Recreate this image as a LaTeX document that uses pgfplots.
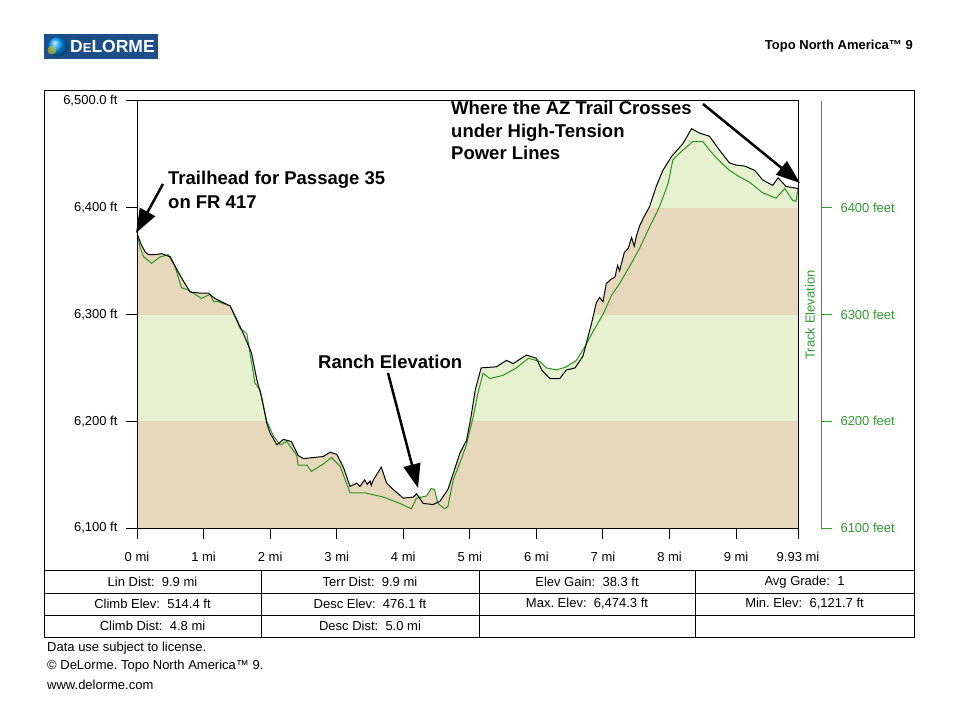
\documentclass[border=0pt]{standalone}
\usepackage{fontspec}
\setmainfont{Liberation Sans}
\usepackage{pgfplots}
\usepackage{pgfplotstable}
\pgfplotsset{compat=1.18}
\usetikzlibrary{arrows.meta}
\frenchspacing

\definecolor{tanband}{RGB}{231,216,187}
\definecolor{greenband}{RGB}{230,241,207}
\definecolor{trackgreen}{RGB}{40,150,30}
\definecolor{axisgreen}{RGB}{50,155,50}
\definecolor{logoblue}{RGB}{28,78,138}

\newcommand{\reg}{\fontsize{13}{15}\selectfont}
\newcommand{\annot}{\fontsize{18.5}{22}\selectfont\bfseries}

% terrain elevation (black)
\pgfplotstableread{
mi ft
0.00 6376
0.06 6366
0.12 6359
0.17 6356
0.27 6356
0.37 6357
0.50 6354
0.60 6342
0.70 6331
0.80 6321
0.95 6320
1.07 6320
1.17 6315
1.30 6311
1.40 6308
1.50 6295
1.62 6279
1.72 6264
1.80 6239
1.87 6223
1.95 6198
2.00 6189
2.10 6178
2.20 6183
2.32 6181
2.42 6168
2.50 6165
2.65 6166
2.80 6167
2.90 6171
3.00 6169
3.10 6157
3.20 6139
3.30 6142
3.35 6139
3.42 6145
3.46 6141
3.50 6144
3.52 6140
3.55 6145
3.67 6157
3.75 6142
3.85 6136
4.00 6128
4.15 6129
4.20 6132
4.30 6123
4.45 6122
4.55 6125
4.67 6136
4.75 6151
4.85 6170
4.95 6182
5.02 6205
5.08 6229
5.17 6250
5.40 6251
5.55 6257
5.65 6254
5.85 6262
6.00 6259
6.08 6248
6.20 6240
6.35 6240
6.45 6248
6.58 6250
6.70 6261
6.75 6273
6.83 6292
6.90 6311
6.95 6316
7.00 6312
7.05 6329
7.12 6333
7.18 6335
7.22 6346
7.25 6341
7.32 6358
7.38 6362
7.43 6372
7.47 6364
7.50 6373
7.55 6383
7.62 6392
7.70 6401
7.80 6420
7.90 6435
8.03 6448
8.20 6460
8.33 6474
8.45 6470
8.60 6467
8.75 6454
8.90 6442
9.00 6440
9.13 6439
9.28 6435
9.40 6426
9.55 6421
9.63 6428
9.75 6420
9.93 6418
}\terrain

% track elevation (green)
\pgfplotstableread{
mi ft
0.00 6376
0.05 6362
0.10 6354
0.22 6348
0.35 6354
0.47 6356
0.57 6345
0.67 6325
0.77 6323
0.97 6315
1.10 6319
1.15 6312
1.22 6312
1.40 6308
1.55 6287
1.65 6282
1.77 6236
1.85 6229
1.95 6200
2.05 6186
2.15 6178
2.25 6181
2.40 6168
2.42 6159
2.55 6159
2.62 6153
2.80 6160
2.92 6166
3.05 6158
3.20 6133
3.42 6133
3.70 6129
3.95 6123
4.12 6118
4.20 6128
4.35 6130
4.42 6137
4.47 6136
4.52 6123
4.62 6118
4.67 6120
4.75 6145
4.85 6161
4.95 6178
5.05 6204
5.12 6226
5.20 6245
5.30 6240
5.50 6243
5.70 6250
5.88 6259
6.05 6256
6.15 6250
6.30 6248
6.45 6251
6.60 6257
6.73 6270
6.85 6284
7.00 6300
7.13 6318
7.25 6329
7.40 6345
7.55 6362
7.70 6382
7.85 6401
7.98 6423
8.05 6445
8.20 6454
8.35 6462
8.50 6462
8.60 6454
8.73 6445
8.90 6435
9.05 6429
9.20 6424
9.40 6414
9.60 6409
9.73 6418
9.85 6407
9.90 6406
9.93 6418
}\track

% upper edge of the shaded area (the higher of the two profiles), closed along the top
\pgfplotstableread{
mi ft
0.00 6376
0.06 6366
0.12 6359
0.17 6356
0.27 6356
0.37 6357
0.47 6356
0.50 6354
0.60 6342
0.70 6331
0.80 6321
0.95 6320
1.07 6320
1.17 6315
1.30 6311
1.40 6308
1.50 6295
1.62 6279
1.72 6264
1.80 6239
1.87 6223
1.95 6200
2.00 6189
2.10 6178
2.20 6183
2.32 6181
2.42 6168
2.50 6165
2.65 6166
2.80 6167
2.90 6171
3.00 6169
3.10 6157
3.20 6139
3.30 6142
3.35 6139
3.42 6145
3.46 6141
3.50 6144
3.52 6140
3.55 6145
3.67 6157
3.75 6142
3.85 6136
4.00 6128
4.15 6129
4.20 6132
4.30 6129
4.35 6130
4.42 6137
4.47 6136
4.52 6124
4.55 6125
4.67 6136
4.75 6151
4.85 6170
4.95 6182
5.02 6205
5.08 6229
5.17 6250
5.40 6251
5.55 6257
5.65 6254
5.85 6262
6.00 6259
6.08 6254
6.15 6250
6.20 6249
6.30 6248
6.35 6249
6.45 6251
6.58 6256
6.60 6257
6.70 6266
6.73 6270
6.75 6273
6.83 6292
6.90 6311
6.95 6316
7.00 6312
7.05 6329
7.12 6333
7.18 6335
7.22 6346
7.25 6341
7.32 6358
7.38 6362
7.43 6372
7.47 6364
7.50 6373
7.55 6383
7.62 6392
7.70 6401
7.80 6420
7.90 6435
8.03 6448
8.20 6460
8.33 6474
8.45 6470
8.60 6467
8.75 6454
8.90 6442
9.00 6440
9.13 6439
9.28 6435
9.40 6426
9.55 6421
9.63 6428
9.75 6420
9.93 6418
9.93 6500
0.00 6500
}\mask

\begin{document}
\begin{tikzpicture}[x=1pt,y=1pt]
\path (0,0) rectangle (960,718);

% header
\fill[logoblue] (44,659) rectangle (158,684);
\shade[ball color=cyan!60!blue] (58,671.5) circle (10);
\fill[yellow!70!orange, opacity=0.55] (52,668) circle (4.5);
\node[anchor=west, text=white, inner sep=0pt] at (70,671.5)
  {\fontsize{17.5}{17.5}\selectfont\bfseries D{\fontsize{13}{13}\selectfont E}LORME};
\node[anchor=east, inner sep=0pt] at (913,672)
  {\fontsize{13}{15}\selectfont\bfseries Topo North America™ 9};

\begin{axis}[
  at={(137pt,190pt)}, anchor=south west,
  scale only axis, width=661pt, height=427pt,
  xmin=0, xmax=9.93, ymin=6100, ymax=6500,
  axis on top,
  axis line style={line width=1pt},
  tick pos=left, tick align=outside,
  major tick length=11pt,
  tick style={black, line width=1pt},
  xtick={0,1,2,3,4,5,6,7,8,9,9.93},
  xticklabels={0 mi,1 mi,2 mi,3 mi,4 mi,5 mi,6 mi,7 mi,8 mi,9 mi,9.93 mi},
  ytick={6100,6200,6300,6400,6500},
  yticklabels={{6,100 ft},{6,200 ft},{6,300 ft},{6,400 ft},{6,500.0 ft}},
  ticklabel style={font=\reg},
  xticklabel style={yshift=-10pt},
  yticklabel style={xshift=-5pt},
]
\addplot[fill=tanband, draw=none] coordinates {(0,6100) (9.93,6100) (9.93,6200) (0,6200)};
\addplot[fill=greenband, draw=none] coordinates {(0,6200) (9.93,6200) (9.93,6300) (0,6300)};
\addplot[fill=tanband, draw=none] coordinates {(0,6300) (9.93,6300) (9.93,6400) (0,6400)};
\addplot[fill=greenband, draw=none] coordinates {(0,6400) (9.93,6400) (9.93,6500) (0,6500)};
\addplot[fill=white, draw=none] table[x=mi,y=ft]{\mask};
\addplot[trackgreen, line width=1pt] table[x=mi,y=ft]{\track};
\addplot[black, line width=1pt] table[x=mi,y=ft]{\terrain};
\end{axis}

% track elevation axis
\begin{axis}[
  at={(821pt,190pt)}, anchor=south east,
  scale only axis, width=1pt, height=427pt,
  xmin=0, xmax=1, ymin=6100, ymax=6500,
  axis x line=none, axis y line=right,
  axis line style={-, axisgreen, line width=1pt},
  tick align=outside, major tick length=11pt,
  tick style={axisgreen, line width=1pt},
  ytick={6100,6200,6300,6400},
  yticklabels={6100 feet,6200 feet,6300 feet,6400 feet},
  yticklabel style={font=\reg, text=axisgreen, xshift=5pt},
]
\addplot[draw=none] coordinates {(0,6100) (1,6500)};
\end{axis}
\node[rotate=90, text=axisgreen, inner sep=0pt] at (810,403) {\reg Track Elevation};

% annotations
\node[anchor=base west, inner sep=0pt] at (168,533.5) {\annot Trailhead for Passage 35};
\node[anchor=base west, inner sep=0pt] at (168,509.5) {\annot on FR 417};
\node[anchor=base west, inner sep=0pt] at (451,603) {\annot Where the AZ Trail Crosses};
\node[anchor=base west, inner sep=0pt] at (451,580.5) {\annot under High-Tension};
\node[anchor=base west, inner sep=0pt] at (451,558) {\annot Power Lines};
\node[anchor=base west, inner sep=0pt] at (318,349) {\annot Ranch Elevation};
\begin{scope}[line width=2.5pt, -{Triangle[length=24pt,width=17pt]}]
\draw (163,534) -- (136,485);
\draw (388,345) -- (418,230);
\draw (703,614) -- (800,535);
\end{scope}

% frame and table
\draw[line width=1pt] (44,81) rectangle (914,627);
\draw[line width=1pt] (44,148) -- (914,148);
\draw[line width=1pt] (44,125) -- (914,125);
\draw[line width=1pt] (44,103) -- (914,103);
\foreach \cx in {261,479,695} \draw[line width=1pt] (\cx,148) -- (\cx,81);
\node at (152.5,136) {\reg Lin Dist:\ \ 9.9 mi};
\node at (370,136) {\reg Terr Dist:\ \ 9.9 mi};
\node at (587,136) {\reg Elev Gain:\ \ 38.3 ft};
\node at (804.5,136) {\reg Avg Grade:\ \ 1};
\node at (152.5,114) {\reg Climb Elev:\ \ 514.4 ft};
\node at (370,114) {\reg Desc Elev:\ \ 476.1 ft};
\node at (587,114) {\reg Max. Elev:\ \ 6,474.3 ft};
\node at (804.5,114) {\reg Min. Elev:\ \ 6,121.7 ft};
\node at (152.5,92) {\reg Climb Dist:\ \ 4.8 mi};
\node at (370,92) {\reg Desc Dist:\ \ 5.0 mi};

% footer
\node[anchor=west, inner sep=0pt] at (47,70) {\reg Data use subject to license.};
\node[anchor=west, inner sep=0pt] at (47,52) {\reg © DeLorme. Topo North America™ 9.};
\node[anchor=west, inner sep=0pt] at (47,33) {\reg www.delorme.com};
\end{tikzpicture}
\end{document}
